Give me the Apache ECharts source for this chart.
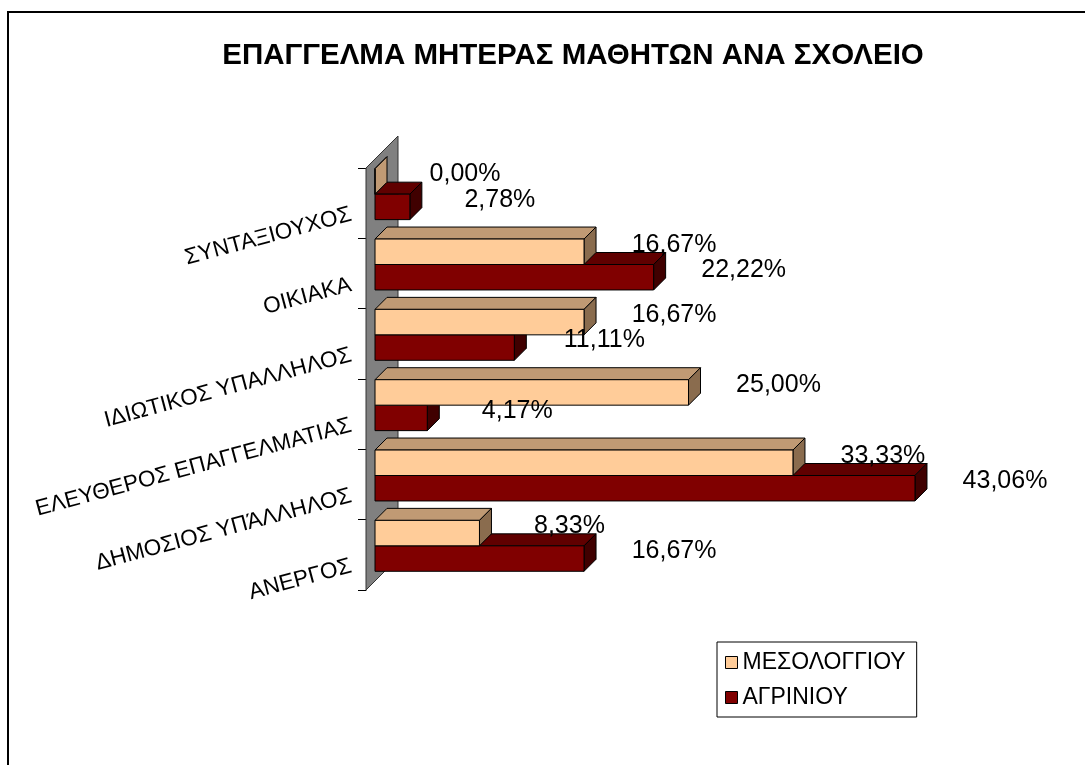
<!DOCTYPE html>
<html>
<head>
<meta charset="utf-8">
<script src="https://cdn.jsdelivr.net/npm/echarts@6/dist/echarts.min.js"></script>
<style>
  html, body { margin: 0; padding: 0; background: #fff; }
  #main { width: 1085px; height: 765px; }
</style>
</head>
<body>
<div id="main"></div>
<script>
// κατηγορίες (από κάτω προς τα πάνω) και ποσοστά ανά σχολείο
var categories = ['ΑΝΕΡΓΟΣ', 'ΔΗΜΟΣΙΟΣ ΥΠΆΛΛΗΛΟΣ', 'ΕΛΕΥΘΕΡΟΣ ΕΠΑΓΓΕΛΜΑΤΙΑΣ', 'ΙΔΙΩΤΙΚΟΣ ΥΠΑΛΛΗΛΟΣ', 'ΟΙΚΙΑΚΑ', 'ΣΥΝΤΑΞΙΟΥΧΟΣ'];
var mesologgiou = [8.33, 33.33, 25.00, 16.67, 16.67, 0.00];
var agriniou = [16.67, 43.06, 4.17, 11.11, 22.22, 2.78];
var seriesNames = ['ΜΕΣΟΛΟΓΓΙΟΥ', 'ΑΓΡΙΝΙΟΥ'];

var FONT = 'Liberation Sans, Arial, sans-serif';
var DEPTH = 12;
var colMes = { front: '#FFCC99', top: '#C09A74', side: '#8A6C4E' };
var colAgr = { front: '#800000', top: '#600000', side: '#400000' };

function toPairs(arr) {
    return arr.map(function (v, i) { return [v, i]; });
}

function barGeom(api, slot) {
    var v = api.value(0), c = api.value(1);
    var p0 = api.coord([0, c]);
    var p1 = api.coord([v, c]);
    var band = api.size([0, 1])[1];
    var h = band * 0.362;
    var y0 = slot === 0 ? p0[1] - h : p0[1];
    return { x0: p0[0], x1: p1[0], y0: y0, y1: y0 + h, v: v };
}

function barRender(colors, slot) {
    return function (params, api) {
        var g = barGeom(api, slot);
        var d = DEPTH;
        var st = { stroke: '#000', lineWidth: 1 };
        // bar of zero length: only the end face shows, in the lighter tone
        var sideFill = g.x1 - g.x0 < 1 ? colors.top : colors.side;
        return {
            type: 'group',
            children: [
                { type: 'polygon', shape: { points: [[g.x0, g.y0], [g.x1, g.y0], [g.x1 + d, g.y0 - d], [g.x0 + d, g.y0 - d]] },
                  style: Object.assign({ fill: colors.top }, st) },
                { type: 'polygon', shape: { points: [[g.x1, g.y0], [g.x1 + d, g.y0 - d], [g.x1 + d, g.y1 - d], [g.x1, g.y1]] },
                  style: Object.assign({ fill: sideFill }, st) },
                { type: 'rect', shape: { x: g.x0, y: g.y0, width: g.x1 - g.x0, height: g.y1 - g.y0 },
                  style: Object.assign({ fill: colors.front }, st) }
            ]
        };
    };
}

function labelRender(slot) {
    return function (params, api) {
        var g = barGeom(api, slot);
        return {
            type: 'text',
            style: {
                x: g.x1 + 90, y: (g.y0 + g.y1) / 2 - 7,
                text: g.v.toFixed(2).replace('.', ',') + '%',
                fill: '#000', font: '25px ' + FONT,
                align: 'center', verticalAlign: 'middle'
            }
        };
    };
}

var chart = echarts.init(document.getElementById('main'));

var option = {
    animation: false,
    backgroundColor: '#fff',
    title: {
        text: 'ΕΠΑΓΓΕΛΜΑ ΜΗΤΕΡΑΣ ΜΑΘΗΤΩΝ ΑΝΑ ΣΧΟΛΕΙΟ',
        left: 568, top: 36, textAlign: 'center',
        textStyle: { fontFamily: FONT, fontSize: 29.5, fontWeight: 'bold', color: '#000' }
    },
    legend: {
        orient: 'vertical',
        left: 717, top: 642,
        padding: [9, 11, 8, 8],
        itemGap: 12,
        itemWidth: 12, itemHeight: 12,
        borderColor: '#000', borderWidth: 1,
        icon: 'rect',
        textStyle: { fontFamily: FONT, fontSize: 23, color: '#000', padding: [0, 0, 0, 0] },
        data: [
            { name: seriesNames[0], itemStyle: { color: colMes.front, borderColor: '#000', borderWidth: 1 } },
            { name: seriesNames[1], itemStyle: { color: colAgr.front, borderColor: '#000', borderWidth: 1 } }
        ]
    },
    grid: [
        { left: 366, top: 168, width: 627, height: 422 },
        { left: 375, top: 159, width: 627, height: 422 }
    ],
    xAxis: [
        { gridIndex: 0, type: 'value', min: 0, max: 50, show: false },
        { gridIndex: 1, type: 'value', min: 0, max: 50, show: false }
    ],
    yAxis: [
        {
            gridIndex: 0, type: 'category', data: categories,
            axisLine: { show: true, lineStyle: { color: '#000', width: 1 } },
            axisTick: { show: true, length: 8, lineStyle: { color: '#000' } },
            axisLabel: {
                rotate: 15, margin: 18, align: 'right', verticalAlign: 'top',
                fontFamily: FONT, fontSize: 22.5, color: '#000'
            },
            splitLine: { show: false }
        },
        { gridIndex: 1, type: 'category', data: categories, show: false }
    ],
    series: [
        {
            type: 'custom', name: 'wall', xAxisIndex: 1, yAxisIndex: 1, z: 1, silent: true,
            data: [[0, 0]],
            renderItem: function (params, api) {
                var cs = params.coordSys;
                var fx = cs.x - 9, ft = cs.y + 9, fb = cs.y + cs.height + 9;
                return {
                    type: 'polygon',
                    shape: { points: [[fx, ft], [fx + 32, ft - 32], [fx + 32, fb - 32], [fx, fb]] },
                    style: { fill: '#808080', stroke: '#333', lineWidth: 1 }
                };
            }
        },
        {
            type: 'custom', name: seriesNames[1], xAxisIndex: 1, yAxisIndex: 1, z: 2,
            itemStyle: { color: colAgr.front },
            data: toPairs(agriniou), renderItem: barRender(colAgr, 1)
        },
        {
            type: 'custom', name: seriesNames[0], xAxisIndex: 1, yAxisIndex: 1, z: 2,
            itemStyle: { color: colMes.front },
            data: toPairs(mesologgiou), renderItem: barRender(colMes, 0)
        },
        {
            type: 'custom', name: 'lblAgr', xAxisIndex: 1, yAxisIndex: 1, z: 3, silent: true,
            data: toPairs(agriniou), renderItem: labelRender(1)
        },
        {
            type: 'custom', name: 'lblMes', xAxisIndex: 1, yAxisIndex: 1, z: 3, silent: true,
            data: toPairs(mesologgiou), renderItem: labelRender(0)
        }
    ],
    graphic: [
        { type: 'rect', shape: { x: 8, y: 12, width: 1200, height: 900 }, style: { fill: 'none', stroke: '#000', lineWidth: 2 }, z: 0 }
    ]
};

chart.setOption(option);
</script>
</body>
</html>
